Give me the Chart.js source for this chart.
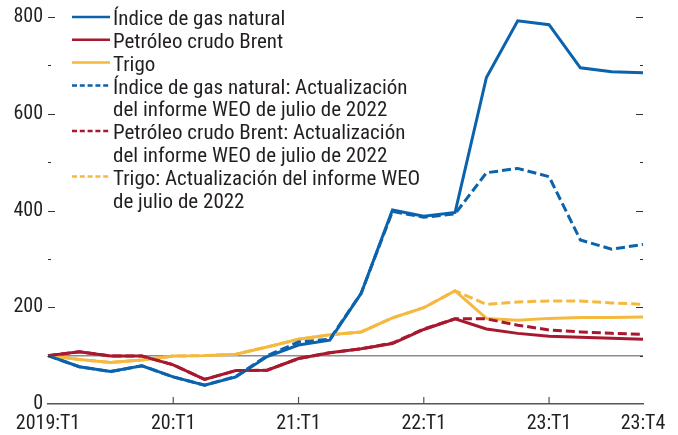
<!DOCTYPE html>
<html>
<head>
<meta charset="utf-8">
<script src="https://cdn.jsdelivr.net/npm/chart.js@4"></script>
<style>
  html, body { margin: 0; padding: 0; background: #fff; }
  #wrap { width: 678px; height: 435px; position: relative; }
</style>
</head>
<body>
<div id="wrap"><canvas id="chart"></canvas></div>
<script>
const FONT = '"Roboto Condensed", "DejaVu Sans Condensed", sans-serif';

// trimestres 2019:T1 .. 2023:T4
const quarters = [];
for (let y = 2019; y <= 2023; y++) {
  for (let q = 1; q <= 4; q++) quarters.push(y + ':T' + q);
}
const shownLabels = { '2019:T1': '2019:T1', '2020:T1': '20:T1', '2021:T1': '21:T1', '2022:T1': '22:T1', '2023:T1': '23:T1', '2023:T4': '23:T4' };
const markedTicks = ['2020:T1', '2021:T1', '2022:T1', '2023:T1'];

const gasNatural  = [100, 77, 67, 79, 56, 39, 56, 98, 122, 132, 229, 401, 388, 396, 675, 792, 784, 695, 687, 685];
const brent       = [100, 108, 99, 99, 81, 51, 69, 70, 94, 106, 114, 125, 154, 176, 155, 146, 140, 138, 136, 134];
const trigo       = [100, 92, 86, 91, 99, 100, 103, 118, 134, 143, 149, 178, 199, 234, 177, 173, 177, 179, 179, 180];
const gasNaturalWeo = [100, 77, 67, 79, 56, 39, 57, 100, 128, 134, 229, 398, 386, 393, 478, 487, 470, 339, 320, 330];
const brentWeo      = [100, 108, 99, 99, 81, 51, 69, 70, 94, 106, 114, 126, 155, 176, 176, 163, 153, 149, 146, 144];
const trigoWeo      = [100, 92, 86, 91, 99, 100, 103, 118, 134, 143, 149, 178, 199, 234, 206, 211, 213, 213, 209, 206];

const BLUE = '#0b62ad';
const RED = '#a8182f';
const YELLOW = '#f6b940';

const legendItems = [
  { lines: ['Índice de gas natural'], color: BLUE, dash: [] },
  { lines: ['Petróleo crudo Brent'], color: RED, dash: [] },
  { lines: ['Trigo'], color: YELLOW, dash: [] },
  { lines: ['Índice de gas natural: Actualización', 'del informe WEO de julio de 2022'], color: BLUE, dash: [5, 2.8] },
  { lines: ['Petróleo crudo Brent: Actualización', 'del informe WEO de julio de 2022'], color: RED, dash: [5, 2.8] },
  { lines: ['Trigo: Actualización del informe WEO', 'de julio de 2022'], color: YELLOW, dash: [5, 2.8] }
];

const line = (data, color, dashed) => ({
  data: data,
  borderColor: color,
  borderWidth: 3,
  borderDash: dashed ? [9, 4] : [],
  pointRadius: 0,
  fill: false,
  tension: 0
});

// marcas de los ejes hacia dentro y leyenda de varias líneas
const extras = {
  id: 'extras',
  afterDatasetsDraw(chart) {
    const { ctx, chartArea, scales } = chart;
    ctx.save();
    ctx.strokeStyle = '#333';
    ctx.lineWidth = 1.2;
    for (let v = 100; v <= 800; v += 100) {
      const y = Math.round(scales.y.getPixelForValue(v)) + 0.5;
      const len = v % 200 === 0 ? 7 : 3;
      ctx.beginPath();
      ctx.moveTo(chartArea.left, y); ctx.lineTo(chartArea.left + len, y);
      ctx.moveTo(chartArea.right, y); ctx.lineTo(chartArea.right - len, y);
      ctx.stroke();
    }
    ctx.strokeStyle = '#555';
    markedTicks.forEach(q => {
      const x = scales.x.getPixelForValue(quarters.indexOf(q));
      ctx.beginPath();
      ctx.moveTo(x, chartArea.bottom); ctx.lineTo(x, chartArea.bottom - 7);
      ctx.stroke();
    });

    let y = 20;
    ctx.font = '21px ' + FONT;
    ctx.textBaseline = 'middle';
    ctx.fillStyle = '#231f20';
    legendItems.forEach(item => {
      ctx.beginPath();
      ctx.strokeStyle = item.color;
      ctx.lineWidth = 2.5;
      ctx.setLineDash(item.dash);
      ctx.moveTo(72, y - 3); ctx.lineTo(110, y - 3);
      ctx.stroke();
      ctx.setLineDash([]);
      item.lines.forEach(t => {
        ctx.fillText(t, 113, y);
        y += 22.8;
      });
    });
    ctx.restore();
  }
};

new Chart(document.getElementById('chart'), {
  type: 'line',
  data: {
    labels: quarters,
    datasets: [
      line(gasNaturalWeo, BLUE, true),
      line(brentWeo, RED, true),
      line(trigoWeo, YELLOW, true),
      line(gasNatural, BLUE, false),
      line(brent, RED, false),
      line(trigo, YELLOW, false)
    ]
  },
  plugins: [extras],
  options: {
    responsive: true,
    maintainAspectRatio: false,
    animation: false,
    layout: { padding: { top: 8, right: 35, left: 0, bottom: 0 } },
    plugins: { legend: { display: false }, tooltip: { enabled: false } },
    scales: {
      x: {
        offset: false,
        afterFit: s => { s.height = 31; },
        grid: { display: false, drawTicks: false },
        border: { display: true, color: '#555', width: 1.5 },
        ticks: {
          autoSkip: false,
          maxRotation: 0,
          padding: 8,
          color: '#231f20',
          font: { family: FONT, size: 20 },
          callback: function (v) { return shownLabels[quarters[v]] || ''; }
        }
      },
      y: {
        min: 0,
        max: 800,
        afterFit: s => { s.width = 48; },
        grid: {
          drawTicks: false,
          color: c => c.tick && c.tick.value === 100 ? '#8c8c8c' : 'rgba(0,0,0,0)',
          lineWidth: 1.5
        },
        border: { display: false },
        ticks: {
          stepSize: 100,
          padding: 5,
          color: '#231f20',
          font: { family: FONT, size: 20 },
          callback: v => v % 200 === 0 ? v : ''
        }
      }
    }
  }
});
</script>
</body>
</html>
